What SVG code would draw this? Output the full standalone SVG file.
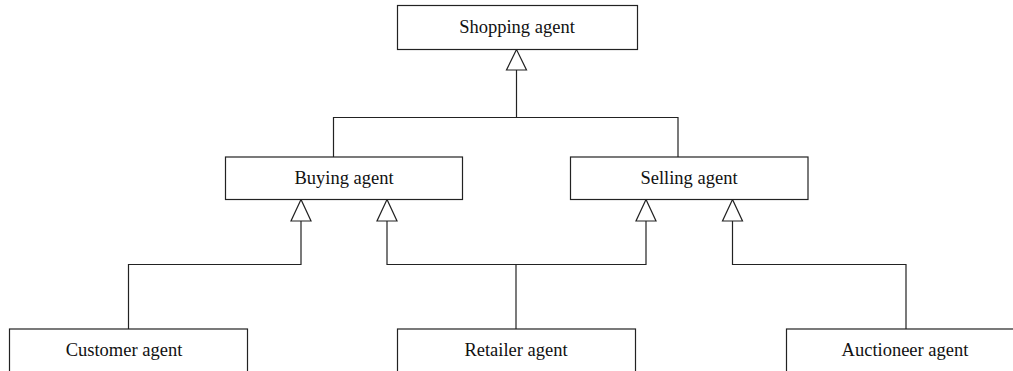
<svg xmlns="http://www.w3.org/2000/svg" width="1013" height="371" viewBox="0 0 1013 371">
<style>
.box{fill:#fff;stroke:#222;stroke-width:1.2}
.lbl{font-family:"Liberation Serif","Times New Roman",serif;font-size:18.5px;fill:#111;text-anchor:middle}
.ln{fill:none;stroke:#222;stroke-width:1.2}
.tri{fill:#fff;stroke:#222;stroke-width:1.2}
</style>
<g id="connectors">
<polyline class="ln" points="516.5,70 516.5,117.5"/>
<polyline class="ln" points="333.5,157 333.5,117.5 678,117.5 678,157"/>
<polyline class="ln" points="128.5,329 128.5,264.5 301,264.5 301,221"/>
<polyline class="ln" points="387,221 387,264.5 646,264.5 646,221"/>
<polyline class="ln" points="516,264.5 516,329"/>
<polyline class="ln" points="906,329 906,264.5 732.5,264.5 732.5,221"/>
<polygon class="tri" points="516.5,49.5 506.5,70 526.5,70"/>
<polygon class="tri" points="301,199.5 291,221 311,221"/>
<polygon class="tri" points="387,199.5 377,221 397,221"/>
<polygon class="tri" points="646,199.5 636,221 656,221"/>
<polygon class="tri" points="732.5,199.5 722.5,221 742.5,221"/>
</g>
<g id="shopping">
<rect class="box" x="397.5" y="5.5" width="240" height="44"/>
<text class="lbl" x="517" y="32.5">Shopping agent</text>
</g>
<g id="buying">
<rect class="box" x="225.5" y="157" width="237" height="42.5"/>
<text class="lbl" x="344" y="183.5">Buying agent</text>
</g>
<g id="selling">
<rect class="box" x="570.5" y="157" width="237.5" height="42.5"/>
<text class="lbl" x="689" y="183.5">Selling agent</text>
</g>
<g id="customer">
<rect class="box" x="9.5" y="329" width="238" height="46"/>
<text class="lbl" x="124" y="356">Customer agent</text>
</g>
<g id="retailer">
<rect class="box" x="397.5" y="329" width="238" height="46"/>
<text class="lbl" x="516" y="356">Retailer agent</text>
</g>
<g id="auctioneer">
<rect class="box" x="786.5" y="329" width="238" height="46"/>
<text class="lbl" x="905" y="356">Auctioneer agent</text>
</g>
</svg>
